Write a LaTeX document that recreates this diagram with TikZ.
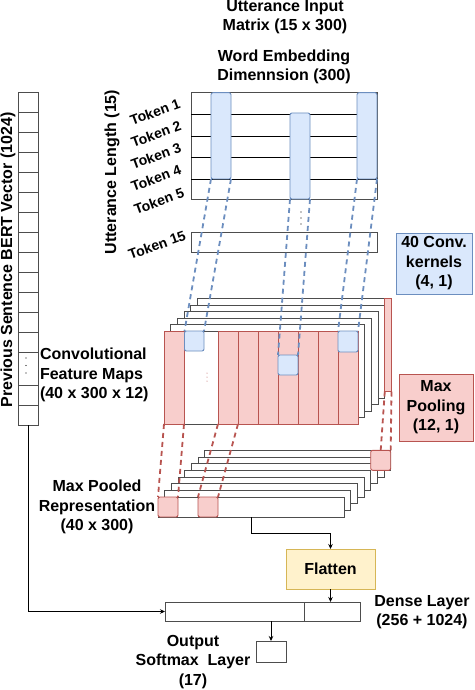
\documentclass[tikz,border=0pt]{standalone}
\usepackage{fontspec}
\setmainfont{Liberation Sans}
\usetikzlibrary{arrows.meta,calc}
\definecolor{bfill}{HTML}{DAE8FC}
\definecolor{bline}{HTML}{6C8EBF}
\definecolor{rfill}{HTML}{F8CECC}
\definecolor{rline}{HTML}{B85450}
\definecolor{yfill}{HTML}{FFF2CC}
\definecolor{yline}{HTML}{D6B656}
\definecolor{gline}{HTML}{4D4D4D}
\newcommand\pbox[6]{\node[#1,anchor=north west,minimum width={((#5)-(#3))*1pt},minimum height={((#6)-(#4))*1pt}] (#2) at ({#3},{#4}) {};}
\begin{document}
\begin{tikzpicture}[x=1pt,y=-1pt,
  every node/.style={inner sep=0pt, outer sep=0pt},
  lbl/.style={font=\bfseries\fontsize{16}{19.5}\selectfont, align=center},
  tok/.style={font=\bfseries\fontsize{14}{16}\selectfont, rotate=20},
  plain/.style={draw=gline, fill=white, line width=0.9pt, rectangle},
  bcell/.style={draw=bline, fill=bfill, line width=0.9pt, rounded corners=2pt},
  rcell/.style={draw=rline, fill=rfill, line width=0.9pt, rounded corners=2pt},
  rcol/.style={draw=rline, fill=rfill, line width=0.9pt},
  bdash/.style={draw=bline, line width=1.8pt, dash pattern=on 5pt off 4pt},
  rdash/.style={draw=rline, line width=1.8pt, dash pattern=on 5pt off 4pt},
  conn/.style={draw=black, line width=0.9pt},
  arr/.style={conn, -{Stealth[length=5pt,width=4.5pt]}},
]
\useasboundingbox (0,0) rectangle (474,690);

% ---------- titles ----------
\node[lbl] (tin) at (285,17) {Utterance Input\\Matrix (15 x 300)};
\node[lbl] (temb) at (284,67) {Word Embedding\\Dimennsion (300)};
\node[lbl, rotate=90] (tlen) at (112,172) {Utterance Length (15)};
\node[lbl, rotate=90] (tbert) at (8,260) {Previous Sentence BERT Vector (1024)};

% ---------- BERT vector ----------
\pbox{plain}{bert}{18.5}{92}{38.5}{425}
\foreach \y in {112,132,152,172,192,212,232,252,272,292,312,332,352,385,405}
  \draw[gline, line width=0.9pt] (18.5,\y) -- (38.5,\y);
\foreach \y in {358,365.5,373} \fill (26,\y) circle (0.7pt);

% ---------- utterance matrix ----------
\pbox{plain}{mat}{191}{92.7}{377}{199}
\foreach \y in {114,136,157,179}
  \draw[black, line width=0.9pt] (191,\y) -- (377,\y);
\pbox{bcell}{c1}{211}{92.7}{231}{179}
\pbox{bcell}{c2}{290}{113}{310}{199}
\pbox{bcell}{c3}{357}{92.7}{377}{179}
\foreach \y in {212,218,224} \fill (301,\y) circle (0.7pt);
\pbox{plain}{t15}{191}{232}{377}{252}

\node[tok] (tk1) at (155,112) {Token 1};
\node[tok] (tk2) at (156,134) {Token 2};
\node[tok] (tk3) at (156,156) {Token 3};
\node[tok] (tk4) at (156,178) {Token 4};
\node[tok] (tk5) at (159,201) {Token 5};
\node[tok] (tk15) at (157,245) {Token 15};

% ---------- kernels box ----------
\node[lbl, draw=bline, fill=bfill, line width=0.9pt, minimum width=76pt, minimum height=61pt] (kern) at (434,263.5) {40 Conv.\\kernels\\(4, 1)};

% ---------- convolutional feature maps ----------
\foreach \k in {5,4,3,2,1}
  {\pbox{plain}{fm\k}{164+6.7*\k}{331-6.5*\k}{358+6.7*\k}{424-6.5*\k}}
\pbox{rcol}{strip}{384.8}{298.5}{391.5}{391.5}
\pbox{plain}{fm0}{164}{331}{358}{424}
\pbox{rcol}{r0}{164}{331}{184}{424}
\foreach \i in {0,...,6}
  {\pbox{rcol}{rc\i}{218+20*\i}{331}{238+20*\i}{424}}
\pbox{bcell}{b1}{184.5}{331}{204}{351}
\pbox{bcell}{b2}{278}{355}{298}{375}
\pbox{bcell}{b3}{338}{331}{358}{352}
\foreach \y in {373,377,381} \fill[rline] (207,\y) circle (0.5pt);

\node[lbl, align=left, anchor=west] (tfm) at (40,375) {Convolutional\\Feature Maps\\(40 x 300 x 12)};

% ---------- max pooling box ----------
\node[lbl, draw=rline, fill=rfill, line width=0.9pt, minimum width=74pt, minimum height=67pt] (pool) at (436,407.5) {Max\\Pooling\\(12, 1)};

% ---------- max pooled representation ----------
\foreach \k in {7,6,5,4,3,2,1}
  {\pbox{plain}{mp\k}{158+6.67*\k}{497-6.67*\k}{344+6.67*\k}{517-6.67*\k}}
\pbox{rcell}{pb}{370.7}{450.3}{390.7}{470.3}
\pbox{plain}{mp0}{158}{497}{344}{517}
\pbox{rcell}{p1}{158}{497}{178}{517}
\pbox{rcell}{p2}{198}{497}{218}{517}

\node[lbl] (tmp) at (97,507) {Max Pooled\\Representation\\(40 x 300)};

% ---------- dashed projections ----------
\draw[bdash] (c1.south west) -- (b1.north west);
\draw[bdash] (c1.south east) -- (b1.north east);
\draw[bdash] (c2.south west) -- (b2.north west);
\draw[bdash] (c2.south east) -- (b2.north east);
\draw[bdash] (c3.south west) -- (b3.north west);
\draw[bdash] (c3.south east) -- (b3.north east);

\draw[rdash] (r0.south west) -- (p1.north west);
\draw[rdash] (r0.south east) -- (p1.north east);
\draw[rdash] (rc0.south west) -- (p2.north west);
\draw[rdash] (rc0.south east) -- (p2.north east);
\draw[rdash] (strip.south west) -- (pb.north);
\draw[rdash] (strip.south east) -- (pb.north east);

% ---------- flatten, dense, softmax ----------
\node[lbl, draw=yline, fill=yfill, line width=0.9pt, minimum width=89pt, minimum height=40pt] (flat) at (330.5,569) {Flatten};
\pbox{plain}{densea}{165}{602}{304}{621}
\pbox{plain}{denseb}{304}{602}{360}{621}
\pbox{plain}{soft}{256}{641}{286}{662}

\node[lbl] (tdense) at (422,612) {Dense Layer\\(256 + 1024)};
\node[lbl] (tsoft) at (193,662) {Output\\Softmax~~Layer\\(17)};

% ---------- connectors ----------
\draw[arr] (mp0.south) -- ++(0,16) -| (flat.north);
\draw[arr] (flat.south) -- (flat.south |- denseb.north);
\draw[arr] (bert.south) |- (densea.west);
\draw[arr] (soft.north |- densea.south) -- (soft.north);
\end{tikzpicture}
\end{document}
